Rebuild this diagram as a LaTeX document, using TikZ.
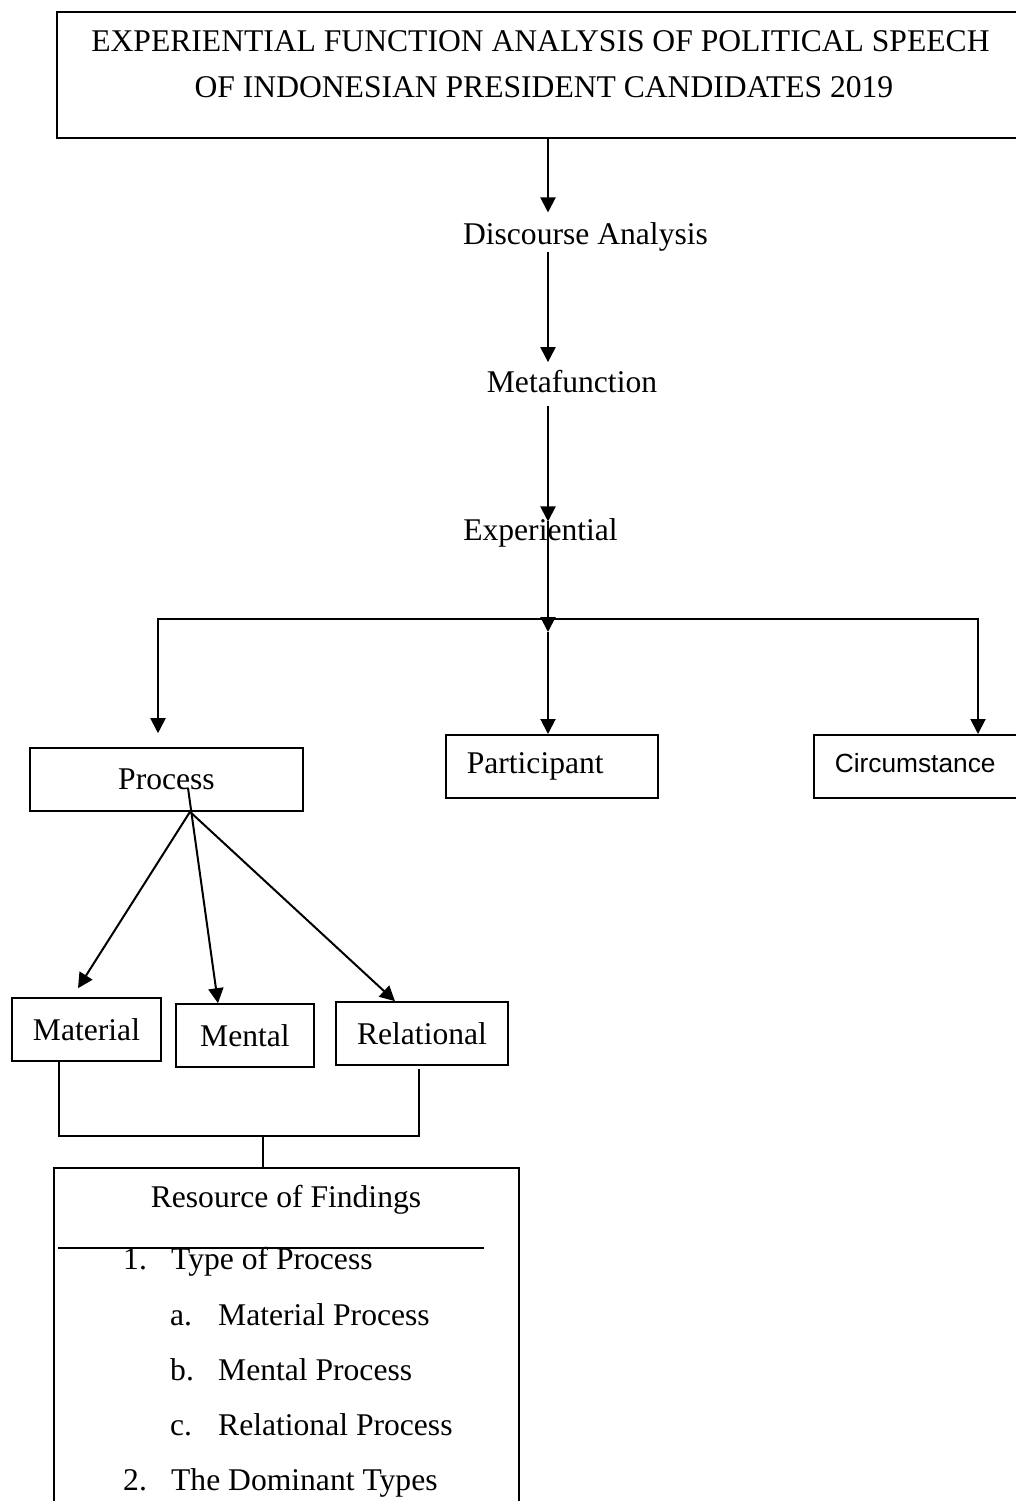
\documentclass[tikz,border=0pt]{standalone}
\usepackage{fontspec}
\setmainfont{Liberation Serif}
\newfontfamily\arialfont{Liberation Sans}
\usetikzlibrary{arrows.meta}

\begin{document}
\begin{tikzpicture}[x=1pt, y=-1pt,
    txt/.style={font=\fontsize{31.6}{38}\selectfont, inner sep=0pt},
    box/.style={draw, line width=1.6pt, txt},
    arr/.style={line width=2pt, -{Triangle[length=15pt,width=15pt]}},
    con/.style={line width=1.6pt}]
  \useasboundingbox (0,0) rectangle (1016,1501);
  \clip (0,0) rectangle (1016,1501);

  % title
  \node[box, minimum width=980, minimum height=126, anchor=north west] (title) at (56,11) {};
  \node[txt, anchor=base] (title1) at (540.5,52) {EXPERIENTIAL FUNCTION ANALYSIS OF POLITICAL SPEECH};
  \node[txt, anchor=base] (title2) at (544,98) {OF INDONESIAN PRESIDENT CANDIDATES 2019};

  % main chain
  \coordinate (spine) at (548,0);
  \node[txt, anchor=base] (disc)  at (585.5,244) {Discourse Analysis};
  \node[txt, anchor=base] (meta)  at (572,392)   {Metafunction};
  \node[txt, anchor=base] (exper) at (540.5,540) {Experiential};
  \coordinate (hub)  at (548,619);
  \coordinate (lhub) at (158,619);
  \coordinate (rhub) at (978,619);

  \draw[arr] (title.south -| spine) -- ([yshift=9.4pt]disc.north -| spine);
  \draw[arr] ([yshift=-1pt]disc.south -| spine) -- ([yshift=7.4pt]meta.north -| spine);
  \draw[arr] ([yshift=-13pt]meta.south -| spine) -- ([yshift=-3.6pt]exper.north -| spine);
  \draw[arr] ([yshift=-3.6pt]exper.north -| spine) -- ([yshift=-13pt]hub);

  % three branches
  \node[box, minimum width=273, minimum height=63] (process) at (166.5,779.5) {Process};
  \node[box, text width=170pt, inner xsep=21pt, minimum height=63, anchor=north west, align=left] (participant) at (445,734) {Participant};
  \node[box, text width=170pt, inner xsep=21pt, minimum height=63, anchor=north west, align=left, text depth=6pt,
        font=\arialfont\fontsize{26.3}{32}\selectfont] (circ) at (813,734) {Circumstance};

  \draw[arr] ([yshift=-13pt]hub) -- (participant.north -| hub);
  \draw[arr] (hub) -| ([yshift=14pt]process.north -| lhub);
  \draw[arr] (hub) -| (circ.north -| rhub);

  % types of process
  \node[box, minimum width=149, minimum height=63] (material)   at (86.5,1029.5) {Material};
  \node[box, minimum width=138, minimum height=63] (mental)     at (245,1035.5)  {Mental};
  \node[box, minimum width=172, minimum height=63] (relational) at (422,1033.5)  {Relational};

  \draw[arr] ([xshift=23.5pt]process.south) -- ([xshift=-8.5pt,yshift=9pt]material.north);
  \draw[arr] ([xshift=21.5pt,yshift=-8.5pt]process.center) -- ([xshift=-27pt]mental.north);
  \draw[arr] ([xshift=23.5pt]process.south) -- ([xshift=-27pt]relational.north);

  % findings
  \coordinate (merge) at (263,1136);
  \node[box, minimum width=465, minimum height=400, anchor=north west] (findings) at (53,1167) {};
  \draw[con] ([xshift=-27.5pt]material.south) |- (merge) -| ([xshift=-3pt,yshift=-3pt]relational.south);
  \draw[con] (merge) -- (merge |- findings.north);

  \node[txt, anchor=base] (fhead) at (286,1207) {Resource of Findings};
  \draw[con] (58,1248) -- (484,1248);
  \node[txt, anchor=base west] (item1)  at (123,1269) {\makebox[48pt][l]{1.}Type of Process};
  \node[txt, anchor=base west] (item1a) at (170,1325) {\makebox[48pt][l]{a.}Material Process};
  \node[txt, anchor=base west] (item1b) at (170,1380) {\makebox[48pt][l]{b.}Mental Process};
  \node[txt, anchor=base west] (item1c) at (170,1435) {\makebox[48pt][l]{c.}Relational Process};
  \node[txt, anchor=base west] (item2)  at (123,1490) {\makebox[48pt][l]{2.}The Dominant Types};
\end{tikzpicture}
\end{document}
